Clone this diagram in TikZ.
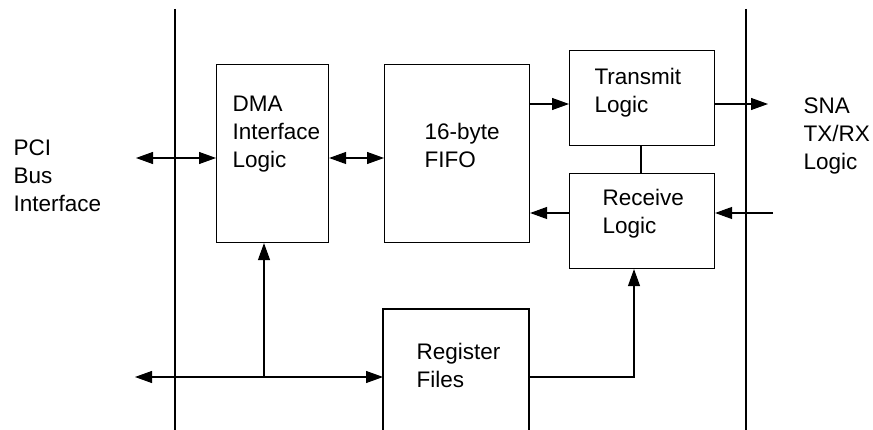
\documentclass[tikz,border=0pt]{standalone}
\usepackage{fontspec}
\setmainfont{Liberation Sans}
\usetikzlibrary{arrows.meta}
\begin{document}
\begin{tikzpicture}[x=1pt,y=-1pt,line width=1.1pt,
  blk/.style={draw,line width=1.1pt,anchor=north west,inner sep=0pt},
  txt/.style={anchor=base west,align=left,inner sep=0pt,font=\fontsize{22.5}{28}\selectfont},
  arr/.style={-{Triangle[length=17pt,width=12pt]}},
  darr/.style={{Triangle[length=17pt,width=12pt]}-{Triangle[length=17pt,width=12pt]}}]
\useasboundingbox (0,0) rectangle (873,430);
% bus lines
\coordinate (lt) at (175,9); \coordinate (lb) at (175,430);
\coordinate (rt) at (746,9); \coordinate (rb) at (746,430);
\draw (lt) -- (lb);
\draw (rt) -- (rb);
% blocks
\node[blk,minimum width=112pt,minimum height=178pt] (dma) at (216,64) {};
\node[blk,minimum width=145pt,minimum height=178pt] (fifo) at (384,64) {};
\node[blk,minimum width=145pt,minimum height=95pt] (tx) at (569,50) {};
\node[blk,minimum width=145pt,minimum height=95pt] (rx) at (569,173) {};
\draw (383,430) |- (529,309) coordinate (regtr) -- (529,430);
\coordinate (regw) at (383,377);
\coordinate (rege) at (529,377);
% texts (anchor = baseline of last line)
\node[txt] (dmat) at (232,168) {DMA\\Interface\\Logic};
\node[txt] (fifot) at (424,168) {16-byte\\FIFO};
\node[txt] (txt1) at (594,113) {Transmit\\Logic};
\node[txt] (rxt) at (602,234) {Receive\\Logic};
\node[txt] (regt) at (416,387) {Register\\Files};
\node[txt] (pcit) at (13,212) {PCI\\Bus\\Interface};
\node[txt] (snat) at (803,170) {SNA\\TX/RX\\Logic};
% connectors
\coordinate (pcil) at (136,158);
\draw[darr] (pcil) -- (dma.west |- pcil);
\draw[darr] (dma.east |- pcil) -- (fifo.west |- pcil);
\coordinate (txy) at (0,104);
\draw[arr] (fifo.east |- txy) -- (tx.west |- txy);
\coordinate (snaout) at (768,104);
\draw[arr] (tx.east |- snaout) -- (snaout);
\draw (tx.south -| 641,0) -- (rx.north -| 641,0);
\coordinate (snain) at (773,213);
\draw[arr] (snain) -- (rx.east |- snain);
\draw[arr] (rx.west |- snain) -- (fifo.east |- snain);
\coordinate (busl) at (135,377);
\draw[darr] (busl) -- (regw);
\coordinate (br) at (264,377);
\draw[arr] (br) -- (dma.south -| br);
\coordinate (rxup) at (634,377);
\draw[arr] (rege) -- (rxup) -- (rx.south -| rxup);
\end{tikzpicture}
\end{document}
